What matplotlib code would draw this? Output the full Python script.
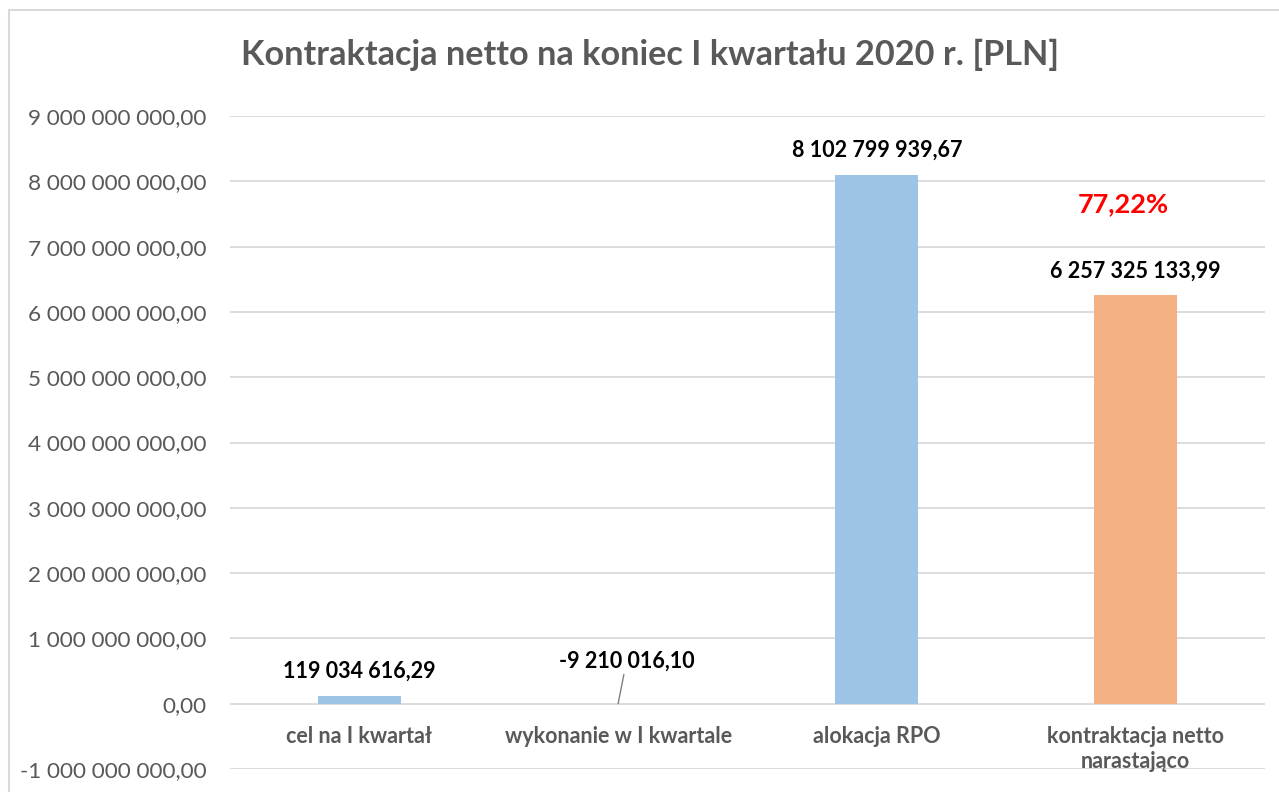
import numpy as np
import matplotlib
matplotlib.use('Agg')
from matplotlib import pyplot as plt
from matplotlib.patches import Rectangle

categories = ['cel na I kwartał', 'wykonanie w I kwartale', 'alokacja RPO',
              'kontraktacja netto\nnarastająco']
values = [119034616.29, -9210016.10, 8102799939.67, 6257325133.99]
value_labels = ['119 034 616,29', '-9 210 016,10', '8 102 799 939,67', '6 257 325 133,99']
bar_colors = ['#9DC3E6', '#9DC3E6', '#9DC3E6', '#F4B183']
percent_label = '77,22%'
yticks = np.arange(-1e9, 9.5e9, 1e9)

plt.rcParams['font.family'] = ['Lato', 'DejaVu Sans']

fig = plt.figure(figsize=(12.79, 7.92), dpi=100)
fig.patches.append(Rectangle((9 / 1279, -0.05), 1.1, (792 - 10) / 792 + 0.05,
                             transform=fig.transFigure, fill=False,
                             edgecolor='#D9D9D9', linewidth=1.5))
ax = fig.add_axes([230 / 1279, 23 / 792, 1035 / 1279, (769 - 116) / 792])

x = np.arange(len(categories))
ax.bar(x, values, width=0.32, color=bar_colors, zorder=3)
ax.set_xlim(-0.5, 3.5)
ax.set_ylim(-1e9, 9e9)
ax.set_yticks(yticks)
ax.set_yticklabels(['{:,.2f}'.format(v).replace(',', ' ').replace('.', ',') for v in yticks])
ax.grid(axis='y', color='#D9D9D9', linewidth=1.3, zorder=0)
for s in ax.spines.values():
    s.set_visible(False)
ax.tick_params(axis='y', length=0, pad=17, labelsize=16.2, labelcolor='#595959')
ax.set_xticks([])

# category labels sit just under the zero line
for i, c in enumerate(categories):
    ax.annotate(c, (i, 0), xytext=(0, -16), textcoords='offset points',
                ha='center', va='top', fontsize=15.5, fontweight='bold',
                color='#595959', linespacing=1.25)

# data labels
for i, (v, lab) in enumerate(zip(values, value_labels)):
    if v < 0:
        ax.annotate(lab, (i, 0), xytext=(6, 23), textcoords='offset points',
                    ha='center', va='bottom', fontsize=15.5, fontweight='bold',
                    color='black',
                    arrowprops=dict(arrowstyle='-', color='#7F7F7F', lw=1,
                                    shrinkA=0, shrinkB=0))
    else:
        ax.annotate(lab, (i, v), xytext=(0, 10), textcoords='offset points',
                    ha='center', va='bottom', fontsize=15.5, fontweight='bold',
                    color='black')

ax.annotate(percent_label, (3, values[3]), xytext=(-9, 57), textcoords='offset points',
            ha='center', va='bottom', fontsize=19.5, fontweight='bold', color='#FF0000')

fig.text(650 / 1279, 1 - 55 / 792, 'Kontraktacja netto na koniec I kwartału 2020 r. [PLN]',
         ha='center', va='center', fontsize=24.7, fontweight='bold', color='#595959')

fig.savefig('out.png', dpi=100)
